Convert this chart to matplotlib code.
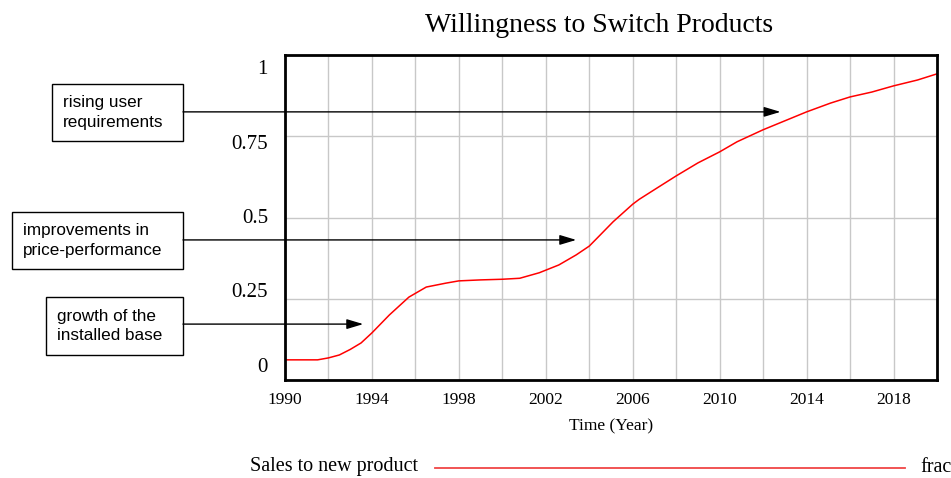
import matplotlib.pyplot as plt
from matplotlib.patches import Rectangle
from matplotlib.lines import Line2D
from matplotlib.ticker import MultipleLocator

# simulated fraction of sales going to the new product
years = [1990.0, 1991.0, 1991.5, 1992.0, 1992.5, 1993.0, 1993.5, 1994.0, 1994.8,
         1995.7, 1996.5, 1997.4, 1998.0, 1999.0, 2000.0, 2000.8, 2001.7, 2002.0,
         2002.6, 2003.4, 2004.0, 2004.5, 2005.1, 2005.7, 2006.0, 2006.3, 2007.1,
         2008.0, 2009.0, 2010.0, 2010.8, 2012.0, 2013.2, 2014.0, 2015.1, 2016.0,
         2017.0, 2018.0, 2019.1, 2020.0]
sales_new = [0.062, 0.062, 0.062, 0.068, 0.077, 0.094, 0.114, 0.145, 0.200,
             0.255, 0.286, 0.298, 0.305, 0.308, 0.310, 0.313, 0.330, 0.338,
             0.354, 0.385, 0.412, 0.446, 0.487, 0.523, 0.541, 0.556, 0.590,
             0.628, 0.668, 0.702, 0.733, 0.770, 0.803, 0.825, 0.852, 0.871,
             0.886, 0.905, 0.923, 0.942]

x_ticks = [1990, 1994, 1998, 2002, 2006, 2010, 2014, 2018]
y_ticks = [0, 0.25, 0.5, 0.75, 1]
y_tick_labels = ["0", "0.25", "0.5", "0.75", "1"]

# annotation boxes: text, arrow target (year, value), box extent in pixels
notes = [
    ("rising user\nrequirements", (2012.8, 0.825), (52, 84, 183, 141)),
    ("improvements in\nprice-performance", (2003.4, 0.431), (12, 212, 183, 269)),
    ("growth of the\ninstalled base", (1993.6, 0.172), (46, 297, 183, 355)),
]

W, H = 951, 478
serif = "Liberation Serif"
sans = "Liberation Sans"

fig = plt.figure(figsize=(W / 100, H / 100), dpi=100)
ax = fig.add_axes([285 / W, 1 - 380 / H, (937 - 285) / W, (380 - 55) / H])

ax.plot(years, sales_new, color="red", lw=1.1)

ax.set_xlim(1990, 2020)
ax.set_ylim(0, 1)
ax.set_xticks(x_ticks)
ax.xaxis.set_minor_locator(MultipleLocator(2))
ax.set_yticks(y_ticks)
ax.set_yticklabels([])
ax.grid(True, which="both", axis="x", color="#c8c8c8", lw=1)
ax.grid(True, axis="y", color="#c8c8c8", lw=1)
ax.tick_params(which="both", length=0)
ax.tick_params(axis="x", pad=9, labelsize=12.5)
for lab in ax.get_xticklabels():
    lab.set_fontfamily(serif)
for sp in ax.spines.values():
    sp.set_linewidth(2)
ax.set_xlabel("Time (Year)", fontfamily=serif, fontsize=12.5, labelpad=7)

# y labels are drawn pulled inwards from the ends of the axis
for v, lab in zip(y_ticks, y_tick_labels):
    ax.text(-17 / (937 - 285), 0.04 + 0.914 * v, lab, transform=ax.transAxes,
            fontfamily=serif, fontsize=15, ha="right", va="center")

fig.text(599 / W, 1 - 25 / H, "Willingness to Switch Products",
         fontfamily=serif, fontsize=20, ha="center", va="center")

for text, target, (x0, y0, x1, y1) in notes:
    fig.add_artist(Rectangle((x0 / W, 1 - y1 / H), (x1 - x0) / W, (y1 - y0) / H,
                             transform=fig.transFigure, fill=False,
                             edgecolor="black", lw=1))
    fig.text((x0 + 11) / W, 1 - (y0 + y1) / 2 / H, text, fontfamily=sans,
             fontsize=12.3, ha="left", va="center", linespacing=1.4)
    ax.annotate("", xy=target, xycoords="data",
                xytext=(x1 / W, target[1]), textcoords=("figure fraction", "data"),
                arrowprops=dict(arrowstyle="-|>,head_length=1.0,head_width=0.3",
                                color="black", lw=1, shrinkA=0, shrinkB=0),
                annotation_clip=False)

# legend row at the bottom
fig.text(418 / W, 1 - 467 / H, "Sales to new product", fontfamily=serif,
         fontsize=14.5, ha="right", va="center")
fig.add_artist(Line2D([435 / W, 905 / W], [1 - 468 / H, 1 - 468 / H],
                      transform=fig.transFigure, color="#f04545", lw=1.3))
fig.text(920 / W, 1 - 467 / H, "frac", fontfamily=serif, fontsize=14.5,
         ha="left", va="center")

fig.savefig("out.png", dpi=100)
